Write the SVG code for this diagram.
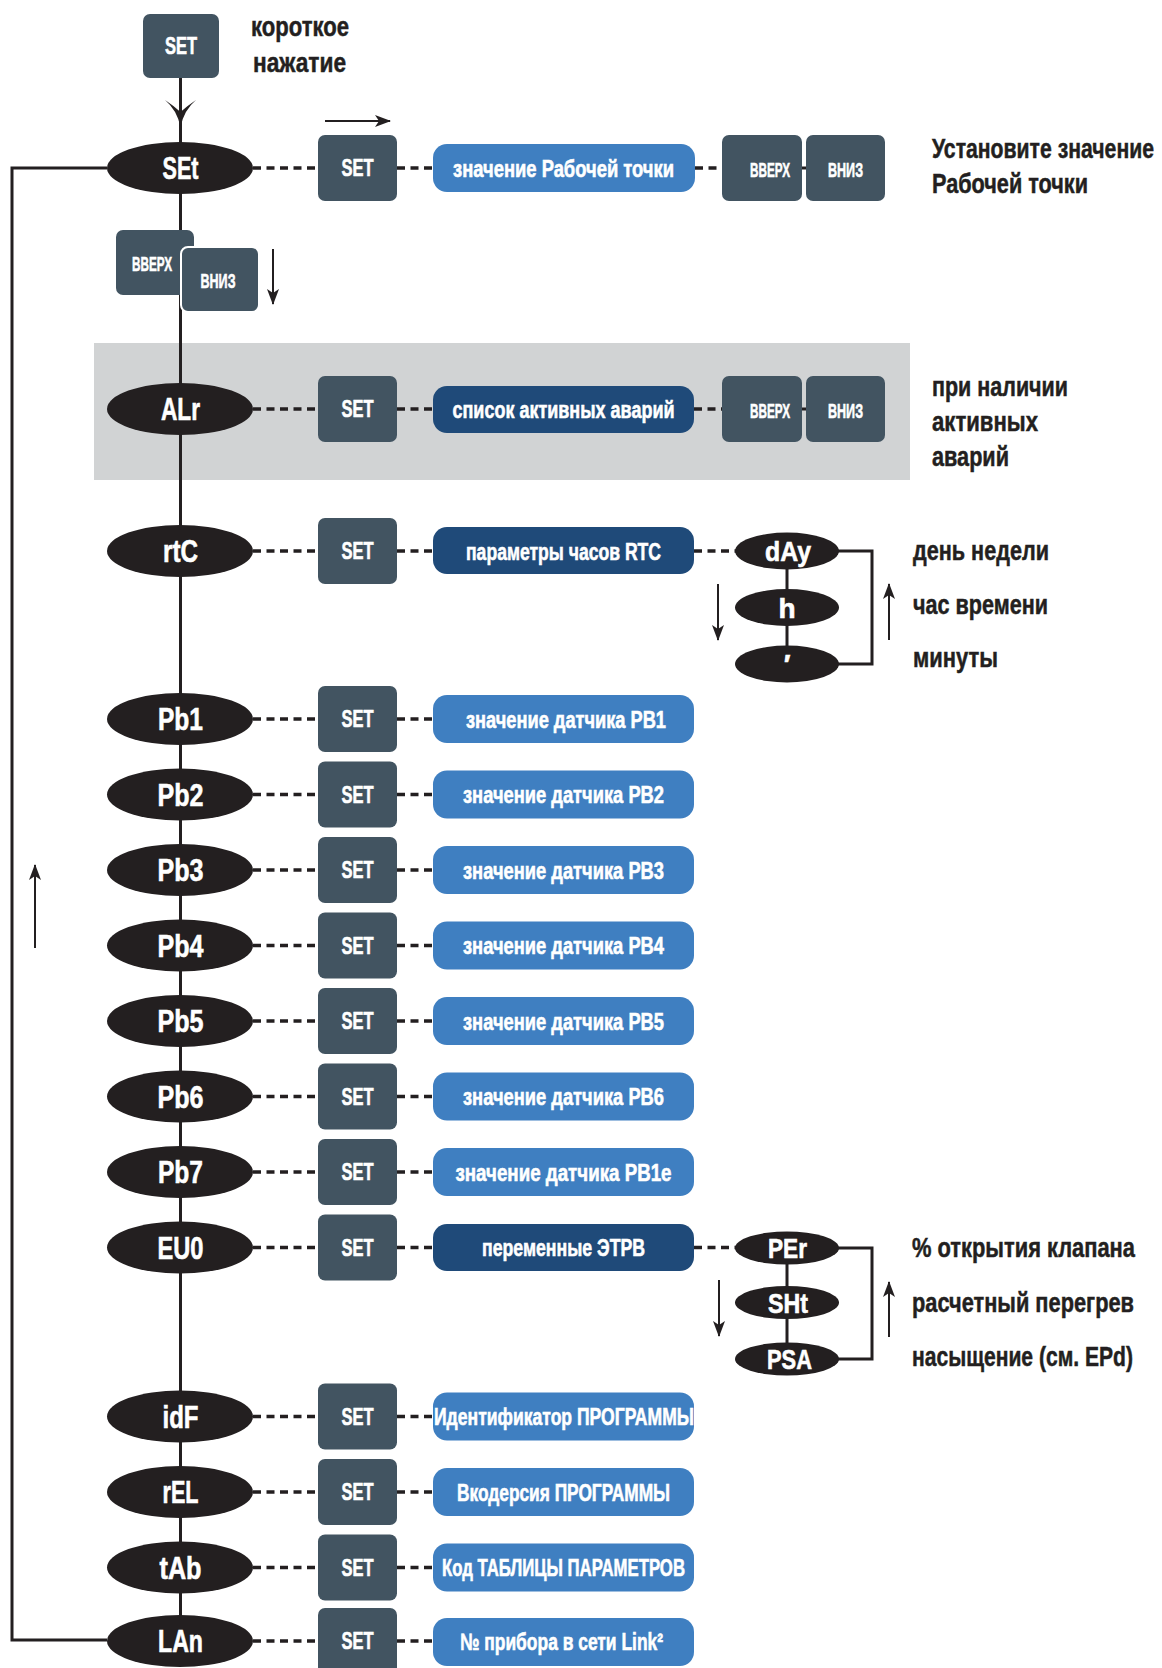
<svg xmlns="http://www.w3.org/2000/svg" width="1162" height="1668" viewBox="0 0 1162 1668">
<style>
.t{font-family:"Liberation Sans Narrow","Liberation Sans",Arial,sans-serif;font-weight:bold}
.w{fill:#fff;stroke:#fff;stroke-width:0.6}
.k{fill:#231f20;stroke:#231f20;stroke-width:0.5}
.m{text-anchor:middle}
.el{fill:#231f20}
.btn{fill:#425461}
.lb{fill:#3f7fc1}
.db{fill:#1f4a79}
.et{font-size:31px}
.st{font-size:28px}
.bt{font-size:23px}
.bx{font-size:24px}
.xt{font-size:21px}
.side{font-size:28px}
.solid{stroke:#231f20;stroke-width:3;fill:none}
.dash{stroke:#231f20;stroke-width:3.5;stroke-dasharray:8 5.5;fill:none}
.thin{stroke:#231f20;stroke-width:2;fill:none}
</style>
<defs>
<marker id="ah" viewBox="0 0 16 12" refX="15" refY="6" markerWidth="16" markerHeight="12" markerUnits="userSpaceOnUse" orient="auto">
<path d="M0,0 L16,6 L0,12 L4,6 Z" fill="#231f20"/>
</marker>
</defs>
<rect id="alarm-panel" x="94" y="343" width="816" height="137" fill="#d1d3d4"/>
<g id="connectors">
<line class="solid" x1="180.5" y1="78" x2="180.5" y2="1641"/>
<path class="solid" d="M107,1640 L12,1640 L12,168 L107,168"/>
<path d="M180.5,127 Q177,110 165,100 Q174,106 180.5,112 Q187,106 196,100 Q184,110 180.5,127 Z" fill="#231f20"/>
<line class="thin" x1="325" y1="121" x2="390" y2="121" marker-end="url(#ah)"/>
<line class="thin" x1="273" y1="249" x2="273" y2="304" marker-end="url(#ah)"/>
<line class="thin" x1="35" y1="948" x2="35" y2="865" marker-end="url(#ah)"/>
<line class="thin" x1="718" y1="584" x2="718" y2="640" marker-end="url(#ah)"/>
<line class="thin" x1="889" y1="640" x2="889" y2="584" marker-end="url(#ah)"/>
<line class="thin" x1="719" y1="1280" x2="719" y2="1336" marker-end="url(#ah)"/>
<line class="thin" x1="889" y1="1337" x2="889" y2="1282" marker-end="url(#ah)"/>
<line class="solid" x1="787" y1="551" x2="787" y2="664"/>
<path class="solid" d="M835,551 L872,551 L872,664 L835,664"/>
<line class="solid" x1="787" y1="1248" x2="787" y2="1359"/>
<path class="solid" d="M835,1248 L872,1248 L872,1359 L835,1359"/>
<g class="dash">
<line x1="253" y1="168" x2="318" y2="168"/><line x1="397" y1="168" x2="433" y2="168"/><line x1="695" y1="168" x2="722" y2="168"/>
<line x1="253" y1="409" x2="318" y2="409"/><line x1="397" y1="409" x2="433" y2="409"/><line x1="694" y1="409" x2="722" y2="409"/>
<line x1="253" y1="551" x2="318" y2="551"/><line x1="397" y1="551" x2="433" y2="551"/><line x1="694" y1="551" x2="736" y2="551"/>
<line x1="253" y1="719" x2="318" y2="719"/><line x1="397" y1="719" x2="433" y2="719"/>
<line x1="253" y1="794.5" x2="318" y2="794.5"/><line x1="397" y1="794.5" x2="433" y2="794.5"/>
<line x1="253" y1="870" x2="318" y2="870"/><line x1="397" y1="870" x2="433" y2="870"/>
<line x1="253" y1="945.5" x2="318" y2="945.5"/><line x1="397" y1="945.5" x2="433" y2="945.5"/>
<line x1="253" y1="1021" x2="318" y2="1021"/><line x1="397" y1="1021" x2="433" y2="1021"/>
<line x1="253" y1="1096.5" x2="318" y2="1096.5"/><line x1="397" y1="1096.5" x2="433" y2="1096.5"/>
<line x1="253" y1="1172" x2="318" y2="1172"/><line x1="397" y1="1172" x2="433" y2="1172"/>
<line x1="253" y1="1247.5" x2="318" y2="1247.5"/><line x1="397" y1="1247.5" x2="433" y2="1247.5"/><line x1="694" y1="1247.5" x2="736" y2="1247.5"/>
<line x1="253" y1="1416.5" x2="318" y2="1416.5"/><line x1="397" y1="1416.5" x2="433" y2="1416.5"/>
<line x1="253" y1="1492" x2="318" y2="1492"/><line x1="397" y1="1492" x2="433" y2="1492"/>
<line x1="253" y1="1567.5" x2="318" y2="1567.5"/><line x1="397" y1="1567.5" x2="433" y2="1567.5"/>
<line x1="253" y1="1641" x2="318" y2="1641"/><line x1="397" y1="1641" x2="433" y2="1641"/>
</g>
<line x1="801" y1="168" x2="807" y2="168" stroke="#231f20" stroke-width="3"/>
<line x1="801" y1="409" x2="807" y2="409" stroke="#231f20" stroke-width="3"/>
</g>

<g id="set-top">
<rect class="btn" x="143" y="14" width="76" height="64" rx="7"/>
<text class="t w m bt" x="181" y="54" textLength="32" lengthAdjust="spacingAndGlyphs">SET</text>
</g>
<g id="short-press-label">
<text class="t k side" x="251" y="36" textLength="98" lengthAdjust="spacingAndGlyphs">короткое</text>
<text class="t k side" x="253" y="72" textLength="93" lengthAdjust="spacingAndGlyphs">нажатие</text>
</g>

<g id="row-SEt">
<ellipse class="el" cx="180" cy="168" rx="73" ry="26"/>
<text class="t w m et" x="180.5" y="179" textLength="36" lengthAdjust="spacingAndGlyphs">SEt</text>
<rect class="btn" x="318" y="135" width="79" height="66" rx="7"/>
<text class="t w m bt" x="357.5" y="176" textLength="32" lengthAdjust="spacingAndGlyphs">SET</text>
<rect class="lb" x="433" y="144" width="262" height="48" rx="14"/>
<text class="t w m bx" x="563.5" y="176.5" textLength="221" lengthAdjust="spacingAndGlyphs">значение Рабочей точки</text>
<rect class="btn" x="722" y="135" width="80" height="66" rx="7"/>
<text class="t w m xt" x="770" y="176.5" textLength="40" lengthAdjust="spacingAndGlyphs">ВВЕРХ</text>
<rect class="btn" x="806" y="135" width="79" height="66" rx="7"/>
<text class="t w m xt" x="845.5" y="176.5" textLength="35" lengthAdjust="spacingAndGlyphs">ВНИЗ</text>
<text class="t k side" x="932" y="158" textLength="222" lengthAdjust="spacingAndGlyphs">Установите значение</text>
<text class="t k side" x="932" y="193" textLength="156" lengthAdjust="spacingAndGlyphs">Рабочей точки</text>
</g>

<g id="updown-SEt">
<rect class="btn" x="116" y="230" width="78" height="65" rx="7"/>
<text class="t w m xt" x="152" y="271" textLength="40" lengthAdjust="spacingAndGlyphs">ВВЕРХ</text>
<rect class="btn" x="181" y="247" width="78" height="65" rx="7" stroke="#fff" stroke-width="2"/>
<text class="t w m xt" x="218" y="288" textLength="35" lengthAdjust="spacingAndGlyphs">ВНИЗ</text>
</g>

<g id="row-ALr">
<ellipse class="el" cx="180" cy="409" rx="73" ry="26"/>
<text class="t w m et" x="180.5" y="420" textLength="39" lengthAdjust="spacingAndGlyphs">ALr</text>
<rect class="btn" x="318" y="376" width="79" height="66" rx="7"/>
<text class="t w m bt" x="357.5" y="417" textLength="32" lengthAdjust="spacingAndGlyphs">SET</text>
<rect class="db" x="433" y="386" width="261" height="47" rx="14"/>
<text class="t w m bx" x="563.5" y="417.5" textLength="222" lengthAdjust="spacingAndGlyphs">список активных аварий</text>
<rect class="btn" x="722" y="376" width="80" height="66" rx="7"/>
<text class="t w m xt" x="770" y="417.5" textLength="40" lengthAdjust="spacingAndGlyphs">ВВЕРХ</text>
<rect class="btn" x="806" y="376" width="79" height="66" rx="7"/>
<text class="t w m xt" x="845.5" y="417.5" textLength="35" lengthAdjust="spacingAndGlyphs">ВНИЗ</text>
<text class="t k side" x="932" y="396" textLength="136" lengthAdjust="spacingAndGlyphs">при наличии</text>
<text class="t k side" x="932" y="431" textLength="106" lengthAdjust="spacingAndGlyphs">активных</text>
<text class="t k side" x="932" y="466" textLength="77" lengthAdjust="spacingAndGlyphs">аварий</text>
</g>

<g id="row-rtC">
<ellipse class="el" cx="180" cy="551" rx="73" ry="26"/>
<text class="t w m et" x="180.5" y="562" textLength="35" lengthAdjust="spacingAndGlyphs">rtC</text>
<rect class="btn" x="318" y="518" width="79" height="66" rx="7"/>
<text class="t w m bt" x="357.5" y="559" textLength="32" lengthAdjust="spacingAndGlyphs">SET</text>
<rect class="db" x="433" y="527" width="261" height="47" rx="14"/>
<text class="t w m bx" x="563.5" y="559.5" textLength="195" lengthAdjust="spacingAndGlyphs">параметры часов RTC</text>
<text class="t k side" x="913" y="560" textLength="136" lengthAdjust="spacingAndGlyphs">день недели</text>
<text class="t k side" x="913" y="614" textLength="135" lengthAdjust="spacingAndGlyphs">час времени</text>
<text class="t k side" x="913" y="667" textLength="85" lengthAdjust="spacingAndGlyphs">минуты</text>
</g>
<g id="sub-dAy">
<ellipse class="el" cx="787" cy="551" rx="52" ry="18.5"/>
<text class="t w m st" x="788" y="561" textLength="46" lengthAdjust="spacingAndGlyphs">dAy</text>
</g>
<g id="sub-h">
<ellipse class="el" cx="787" cy="607.5" rx="52" ry="18.5"/>
<text class="t w m st" x="787" y="617.5">h</text>
</g>
<g id="sub-min">
<ellipse class="el" cx="787" cy="664" rx="52" ry="18.5"/>
<text class="t w m st" x="787" y="674">′</text>
</g>

<g id="row-Pb1">
<ellipse class="el" cx="180" cy="719" rx="73" ry="26"/>
<text class="t w m et" x="180.5" y="730" textLength="45" lengthAdjust="spacingAndGlyphs">Pb1</text>
<rect class="btn" x="318" y="686" width="79" height="66" rx="7"/>
<text class="t w m bt" x="357.5" y="727" textLength="32" lengthAdjust="spacingAndGlyphs">SET</text>
<rect class="lb" x="433" y="695" width="261" height="48" rx="14"/>
<text class="t w m bx" x="566" y="727.5" textLength="200" lengthAdjust="spacingAndGlyphs">значение датчика PB1</text>
</g>
<g id="row-Pb2">
<ellipse class="el" cx="180" cy="794.5" rx="73" ry="26"/>
<text class="t w m et" x="180.5" y="805.5" textLength="46" lengthAdjust="spacingAndGlyphs">Pb2</text>
<rect class="btn" x="318" y="761.5" width="79" height="66" rx="7"/>
<text class="t w m bt" x="357.5" y="802.5" textLength="32" lengthAdjust="spacingAndGlyphs">SET</text>
<rect class="lb" x="433" y="770.5" width="261" height="48" rx="14"/>
<text class="t w m bx" x="563.5" y="803" textLength="201" lengthAdjust="spacingAndGlyphs">значение датчика PB2</text>
</g>
<g id="row-Pb3">
<ellipse class="el" cx="180" cy="870" rx="73" ry="26"/>
<text class="t w m et" x="180.5" y="881" textLength="46" lengthAdjust="spacingAndGlyphs">Pb3</text>
<rect class="btn" x="318" y="837" width="79" height="66" rx="7"/>
<text class="t w m bt" x="357.5" y="878" textLength="32" lengthAdjust="spacingAndGlyphs">SET</text>
<rect class="lb" x="433" y="846" width="261" height="48" rx="14"/>
<text class="t w m bx" x="563.5" y="878.5" textLength="201" lengthAdjust="spacingAndGlyphs">значение датчика PB3</text>
</g>
<g id="row-Pb4">
<ellipse class="el" cx="180" cy="945.5" rx="73" ry="26"/>
<text class="t w m et" x="180.5" y="956.5" textLength="46" lengthAdjust="spacingAndGlyphs">Pb4</text>
<rect class="btn" x="318" y="912.5" width="79" height="66" rx="7"/>
<text class="t w m bt" x="357.5" y="953.5" textLength="32" lengthAdjust="spacingAndGlyphs">SET</text>
<rect class="lb" x="433" y="921.5" width="261" height="48" rx="14"/>
<text class="t w m bx" x="563.5" y="954" textLength="201" lengthAdjust="spacingAndGlyphs">значение датчика PB4</text>
</g>
<g id="row-Pb5">
<ellipse class="el" cx="180" cy="1021" rx="73" ry="26"/>
<text class="t w m et" x="180.5" y="1032" textLength="46" lengthAdjust="spacingAndGlyphs">Pb5</text>
<rect class="btn" x="318" y="988" width="79" height="66" rx="7"/>
<text class="t w m bt" x="357.5" y="1029" textLength="32" lengthAdjust="spacingAndGlyphs">SET</text>
<rect class="lb" x="433" y="997" width="261" height="48" rx="14"/>
<text class="t w m bx" x="563.5" y="1029.5" textLength="201" lengthAdjust="spacingAndGlyphs">значение датчика PB5</text>
</g>
<g id="row-Pb6">
<ellipse class="el" cx="180" cy="1096.5" rx="73" ry="26"/>
<text class="t w m et" x="180.5" y="1107.5" textLength="46" lengthAdjust="spacingAndGlyphs">Pb6</text>
<rect class="btn" x="318" y="1063.5" width="79" height="66" rx="7"/>
<text class="t w m bt" x="357.5" y="1104.5" textLength="32" lengthAdjust="spacingAndGlyphs">SET</text>
<rect class="lb" x="433" y="1072.5" width="261" height="48" rx="14"/>
<text class="t w m bx" x="563.5" y="1105" textLength="201" lengthAdjust="spacingAndGlyphs">значение датчика PB6</text>
</g>
<g id="row-Pb7">
<ellipse class="el" cx="180" cy="1172" rx="73" ry="26"/>
<text class="t w m et" x="180.5" y="1183" textLength="45" lengthAdjust="spacingAndGlyphs">Pb7</text>
<rect class="btn" x="318" y="1139" width="79" height="66" rx="7"/>
<text class="t w m bt" x="357.5" y="1180" textLength="32" lengthAdjust="spacingAndGlyphs">SET</text>
<rect class="lb" x="433" y="1148" width="261" height="48" rx="14"/>
<text class="t w m bx" x="563.5" y="1180.5" textLength="216" lengthAdjust="spacingAndGlyphs">значение датчика PB1е</text>
</g>
<g id="row-EU0">
<ellipse class="el" cx="180" cy="1247.5" rx="73" ry="26"/>
<text class="t w m et" x="180.5" y="1258.5" textLength="46" lengthAdjust="spacingAndGlyphs">EU0</text>
<rect class="btn" x="318" y="1214.5" width="79" height="66" rx="7"/>
<text class="t w m bt" x="357.5" y="1255.5" textLength="32" lengthAdjust="spacingAndGlyphs">SET</text>
<rect class="db" x="433" y="1224" width="261" height="47" rx="14"/>
<text class="t w m bx" x="563.5" y="1256" textLength="163" lengthAdjust="spacingAndGlyphs">переменные ЭТРВ</text>
<text class="t k side" x="912" y="1257" textLength="223" lengthAdjust="spacingAndGlyphs">% открытия клапана</text>
<text class="t k side" x="912" y="1312" textLength="222" lengthAdjust="spacingAndGlyphs">расчетный перегрев</text>
<text class="t k side" x="912" y="1366" textLength="221" lengthAdjust="spacingAndGlyphs">насыщение (см. EPd)</text>
</g>
<g id="sub-PEr">
<ellipse class="el" cx="787" cy="1248" rx="52" ry="16.5"/>
<text class="t w m st" x="787.5" y="1258" textLength="39" lengthAdjust="spacingAndGlyphs">PEr</text>
</g>
<g id="sub-SHt">
<ellipse class="el" cx="787" cy="1302.5" rx="52" ry="16.5"/>
<text class="t w m st" x="788" y="1312.5" textLength="40" lengthAdjust="spacingAndGlyphs">SHt</text>
</g>
<g id="sub-PSA">
<ellipse class="el" cx="787" cy="1359" rx="52" ry="16.5"/>
<text class="t w m st" x="789.5" y="1369" textLength="45" lengthAdjust="spacingAndGlyphs">PSA</text>
</g>

<g id="row-idF">
<ellipse class="el" cx="180" cy="1416.5" rx="73" ry="26"/>
<text class="t w m et" x="180.5" y="1427.5" textLength="36" lengthAdjust="spacingAndGlyphs">idF</text>
<rect class="btn" x="318" y="1383.5" width="79" height="66" rx="7"/>
<text class="t w m bt" x="357.5" y="1424.5" textLength="32" lengthAdjust="spacingAndGlyphs">SET</text>
<rect class="lb" x="433" y="1392.5" width="261" height="48" rx="14"/>
<text class="t w m bx" x="564" y="1425" textLength="260" lengthAdjust="spacingAndGlyphs">Идентификатор ПРОГРАММЫ</text>
</g>
<g id="row-rEL">
<ellipse class="el" cx="180" cy="1492" rx="73" ry="26"/>
<text class="t w m et" x="180.5" y="1503" textLength="36" lengthAdjust="spacingAndGlyphs">rEL</text>
<rect class="btn" x="318" y="1459" width="79" height="66" rx="7"/>
<text class="t w m bt" x="357.5" y="1500" textLength="32" lengthAdjust="spacingAndGlyphs">SET</text>
<rect class="lb" x="433" y="1468" width="261" height="48" rx="14"/>
<text class="t w m bx" x="563.5" y="1500.5" textLength="213" lengthAdjust="spacingAndGlyphs">Вкодерсия ПРОГРАММЫ</text>
</g>
<g id="row-tAb">
<ellipse class="el" cx="180" cy="1567.5" rx="73" ry="26"/>
<text class="t w m et" x="180.5" y="1578.5" textLength="42" lengthAdjust="spacingAndGlyphs">tAb</text>
<rect class="btn" x="318" y="1534.5" width="79" height="66" rx="7"/>
<text class="t w m bt" x="357.5" y="1575.5" textLength="32" lengthAdjust="spacingAndGlyphs">SET</text>
<rect class="lb" x="433" y="1543.5" width="261" height="48" rx="14"/>
<text class="t w m bx" x="563.5" y="1576" textLength="243" lengthAdjust="spacingAndGlyphs">Код ТАБЛИЦЫ ПАРАМЕТРОВ</text>
</g>
<g id="row-LAn">
<ellipse class="el" cx="180" cy="1641" rx="73" ry="26"/>
<text class="t w m et" x="180.5" y="1652" textLength="45" lengthAdjust="spacingAndGlyphs">LAn</text>
<rect class="btn" x="318" y="1608" width="79" height="66" rx="7"/>
<text class="t w m bt" x="357.5" y="1649" textLength="32" lengthAdjust="spacingAndGlyphs">SET</text>
<rect class="lb" x="433" y="1618" width="261" height="48" rx="14"/>
<text class="t w m bx" x="561.5" y="1649.5" textLength="203" lengthAdjust="spacingAndGlyphs">№ прибора в сети Link²</text>
</g>
</svg>
